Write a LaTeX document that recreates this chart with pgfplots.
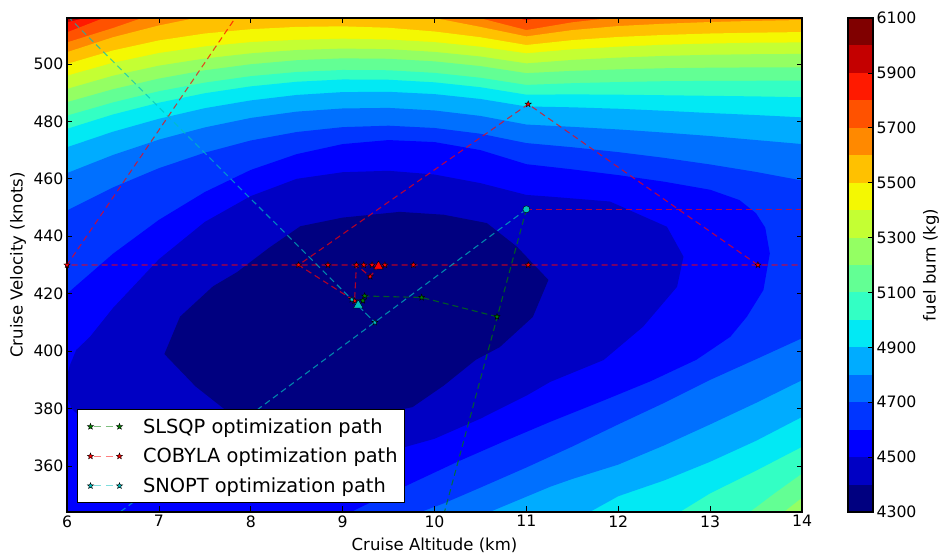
\documentclass[border=0pt]{standalone}
\usepackage{fontspec}
\setmainfont{DejaVu Sans}
\usepackage{pgfplots}
\pgfplotsset{compat=1.18}

\definecolor{c0}{rgb}{0,0,0.5}
\definecolor{c1}{rgb}{0,0,0.767}
\definecolor{c2}{rgb}{0,0,1}
\definecolor{c3}{rgb}{0,0.206,1}
\definecolor{c4}{rgb}{0,0.441,1}
\definecolor{c5}{rgb}{0,0.676,1}
\definecolor{c6}{rgb}{0.0095,0.912,0.958}
\definecolor{c7}{rgb}{0.199,1,0.768}
\definecolor{c8}{rgb}{0.389,1,0.579}
\definecolor{c9}{rgb}{0.579,1,0.389}
\definecolor{c10}{rgb}{0.768,1,0.199}
\definecolor{c11}{rgb}{0.958,0.974,0.0094}
\definecolor{c12}{rgb}{1,0.756,0}
\definecolor{c13}{rgb}{1,0.538,0}
\definecolor{c14}{rgb}{1,0.320,0}
\definecolor{c15}{rgb}{1,0.102,0}
\definecolor{c16}{rgb}{0.767,0,0}
\definecolor{c17}{rgb}{0.5,0,0}
\definecolor{mplgreen}{rgb}{0,0.5,0}
\definecolor{mplcyan}{rgb}{0,0.75,0.75}

\pgfdeclareplotmark{fstar}{%
  \pgfpathmoveto{\pgfpointpolar{90}{\pgfplotmarksize}}%
  \pgfpathlineto{\pgfpointpolar{126}{0.42\pgfplotmarksize}}%
  \pgfpathlineto{\pgfpointpolar{162}{\pgfplotmarksize}}%
  \pgfpathlineto{\pgfpointpolar{198}{0.42\pgfplotmarksize}}%
  \pgfpathlineto{\pgfpointpolar{234}{\pgfplotmarksize}}%
  \pgfpathlineto{\pgfpointpolar{270}{0.42\pgfplotmarksize}}%
  \pgfpathlineto{\pgfpointpolar{306}{\pgfplotmarksize}}%
  \pgfpathlineto{\pgfpointpolar{342}{0.42\pgfplotmarksize}}%
  \pgfpathlineto{\pgfpointpolar{18}{\pgfplotmarksize}}%
  \pgfpathlineto{\pgfpointpolar{54}{0.42\pgfplotmarksize}}%
  \pgfpathclose
  \pgfusepathqfillstroke
}

\pgfplotsset{
  band/.style={draw=none, fill=#1, forget plot},
  pathline/.style={#1, line width=1.1pt, opacity=0.7, dash pattern=on 6pt off 4pt, forget plot},
  starmarks/.style={only marks, mark=fstar, mark size=3.2pt, mark options={fill=#1, draw=black, line width=0.4pt, solid}, forget plot},
}

\begin{document}
\begin{tikzpicture}
\begin{axis}[
  at={(0pt,0pt)}, anchor=south west,
  scale only axis, width=735pt, height=494pt,
  xmin=6, xmax=14, ymin=344, ymax=516,
  xtick={6,7,...,14}, ytick={360,380,...,500},
  tick align=inside, tick pos=both,
  major tick length=5.5pt,
  every tick/.style={black, line width=0.7pt},
  axis line style={line width=1.2pt},
  axis on top,
  tick label style={font=\fontsize{15.7}{18}\selectfont},
  /pgf/number format/assume math mode=true,
  xlabel={Cruise Altitude (km)},
  ylabel={Cruise Velocity (knots)},
  label style={font=\fontsize{16.5}{20}\selectfont},
  xlabel style={at={(axis description cs:0.5,-0.0789)}, anchor=base},
  ylabel style={at={(axis description cs:-0.0667,0.5)}, anchor=center},
  legend style={at={(axis description cs:0.0136,0.0182)}, anchor=south west,
    draw=black, line width=1pt, fill=white,
    font=\fontsize{19.4}{23}\selectfont,
    inner xsep=4.5pt, inner ysep=6.5pt, row sep=9.4pt,
    /tikz/every odd column/.append style={column sep=18.5pt}},
  legend cell align=left,
]
% ---------- filled contour bands ----------
\addplot[band=c17] coordinates {(5.5,330) (14.5,330) (14.5,530) (5.5,530)} -- cycle;
\addplot[band=c16] coordinates {(5.8,516.3) (6,517.8) (6.5,521) (7,524) (14.5,524) (14.5,330) (5.8,330)} -- cycle;
\addplot[band=c15] coordinates {(5.8,513) (6,514.5) (6.2,516) (6.5,518.5) (7,521.5) (8,525) (10,525) (10.8,521) (11,518.8) (11.3,520.5) (12,523) (14.5,525) (14.5,330) (5.8,330)} -- cycle;
\addplot[band=c14] coordinates {(5.8,509.5) (6,511) (6.4,516) (7,520) (7.5,521.5) (8,522.5) (9,523) (10,521.8) (10.5,519.2) (11,515.2) (11.5,518.5) (12,520.5) (13,522) (14.5,523) (14.5,330) (5.8,330)} -- cycle;
\addplot[band=c13] coordinates {(5.8,505.8) (6,507.5) (6.5,512.5) (6.8,515.8) (7,517.3) (7.5,519.3) (8,520.5) (9,521) (10,519.6) (10.5,515.9) (11,511.8) (11.5,514.5) (12,516.3) (12.5,517.4) (13,518.1) (14.5,519.2) (14.5,330) (5.8,330)} -- cycle;
\addplot[band=c12] coordinates {(5.8,502) (6,504.1) (6.5,509.3) (7,513.4) (7.4,516) (8,517.9) (8.5,518.6) (9,518.7) (9.5,518) (10,516) (10.5,512.9) (11,509.6) (11.5,511.8) (12,513.2) (12.5,514) (13,514.6) (13.5,515) (14,515.3) (14.5,515.5) (14.5,330) (5.8,330)} -- cycle;
\addplot[band=c11] coordinates {(5.8,498.2) (6,500) (6.5,504.7) (7,508.2) (7.5,510.6) (8,512.1) (8.5,512.9) (9,513.1) (9.5,512.6) (10,511.3) (10.5,509.3) (11,506.6) (11.5,508.3) (12,509.4) (12.5,510.1) (13,510.6) (13.5,510.9) (14,511.1) (14.5,511.2) (14.5,330) (5.8,330)} -- cycle;
\addplot[band=c10] coordinates {(5.8,494.2) (6,495.9) (6.5,500.4) (7,503.8) (7.5,506.1) (8,507.6) (8.5,508.4) (9,508.8) (9.5,508.5) (10,507.6) (10.5,506) (11,503.7) (11.5,505.1) (12,506) (12.5,506.7) (13,507.1) (13.5,507.4) (14,507.5) (14.5,507.5) (14.5,330) (5.8,330)} -- cycle;
\addplot[band=c9] coordinates {(5.8,489.5) (6,491.3) (6.5,495.9) (7,499.4) (7.5,501.9) (8,503.7) (8.5,504.85) (9,505.35) (9.5,505.15) (10,504.2) (10.5,502.6) (11,500.2) (11.5,501.4) (12,502.2) (12.5,502.8) (13,503.2) (13.5,503.4) (14,503.5) (14.5,503.5) (14.5,330) (5.8,330)} -- cycle;
\addplot[band=c8] coordinates {(5.8,484.9) (6,486.7) (6.5,491.2) (7,494.9) (7.5,497.8) (8,499.9) (8.5,501.3) (9,501.95) (9.5,501.8) (10,500.9) (10.5,499.25) (11,496.8) (11.5,497.6) (12,498.1) (12.5,498.5) (13,498.7) (13.5,498.8) (14,498.8) (14.5,498.8) (14.5,361) (14,349) (13.8,344) (13.6,339) (5.8,339)} -- cycle;
\addplot[band=c7] coordinates {(5.8,480) (6,482) (6.5,486.6) (7,490.5) (7.5,493.5) (8,495.75) (8.5,497.2) (9,497.9) (9.5,497.8) (10,496.9) (10.5,495.2) (11,492.7) (11.5,493.3) (12,493.7) (12.5,494) (13,494.1) (14,494.2) (14.5,494.2) (14.5,367.5) (14,357.4) (13.7,350.5) (13.43,344) (13.2,339) (5.8,339)} -- cycle;
\addplot[band=c6] coordinates {(5.8,475.2) (6,477.4) (6.5,482.4) (7,486.5) (7.5,489.8) (8,492.2) (8.5,493.8) (9,494.6) (9.5,494.5) (10,493.6) (10.5,491.9) (11,489.3) (11.5,489.4) (12,489.3) (12.5,489.1) (13,488.9) (13.5,488.7) (14,488.4) (14.5,488.2) (14.5,375) (14,366.7) (13.5,358.4) (13,350.5) (12.67,344) (12.4,339) (5.8,339)} -- cycle;
\addplot[band=c5] coordinates {(5.8,468.4) (6,471) (6.5,476.4) (7,480.9) (7.5,484.6) (8,487.3) (8.5,489.2) (9,490.2) (9.5,490.3) (10,489.5) (10.5,487.8) (11,485.2) (11.5,484.9) (12,484.4) (12.5,483.7) (13,482.9) (13.5,482.2) (14,481.4) (14.5,480.7) (14.5,385.5) (14,377.1) (13.5,368.8) (13,361.5) (12.5,355) (12,349.5) (11.69,344) (11.4,339) (5.8,339)} -- cycle;
\addplot[band=c4] coordinates {(5.8,459) (6,462) (6.5,468.3) (7,473.65) (7.5,477.9) (8,481.2) (8.5,483.4) (9,484.5) (9.5,484.7) (10,483.8) (10.5,481.9) (11,478.9) (11.5,478.1) (12,477.2) (12.5,476.1) (13,474.9) (13.5,473.5) (14,472.1) (14.5,470.6) (14.5,398) (14,389.9) (13.5,382) (13,374.5) (12.5,367.2) (12,360.5) (11.5,355.5) (11.26,352.8) (10.9,348) (10.6,344) (10.3,340) (5.8,340)} -- cycle;
\addplot[band=c3] coordinates {(5.8,444.5) (6,449) (6.5,457) (7,463.7) (7.5,469.1) (8,473.35) (8.5,476.3) (9,478) (9.5,478.5) (10,477.7) (10.5,475.7) (11,472.45) (11.5,471) (12,469.3) (12.5,467.3) (13,465) (13.5,462.4) (14,459.4) (14.5,456) (14.5,412) (14,404.5) (13.5,397.2) (13,390) (12.5,382) (12,374.5) (11.5,366.8) (11,359.5) (10.5,352.5) (10.1,347) (9.85,344) (9.5,339) (5.8,339)} -- cycle;
\addplot[band=c2] coordinates {(5.8,413) (6,420) (6.5,433.9) (7,445.7) (7.5,455.4) (8,463.1) (8.5,468.6) (9,472.1) (9.5,473.5) (10,472.8) (10.5,470) (11,465.1) (11.5,463.3) (12,461.3) (12.5,459) (13,456.2) (13.32,452.6) (13.5,448) (13.6,443) (13.65,434) (13.58,421.3) (13.4,412) (13.22,405) (12.85,397) (12.35,389.5) (11.8,382.3) (11.26,375.4) (10.75,368.5) (10.25,361.5) (9.75,354) (9.25,346.5) (9,342.5) (8.7,337) (5.8,337)} -- cycle;
\addplot[band=c1] coordinates {(6.1,400.4) (6.03,395) (5.99,390) (5.99,385) (6.05,380) (6.2,375.5) (6.5,371) (7,366.5) (7.5,363.5) (8,362) (8.5,361.5) (9,362.5) (9.5,365) (10,369.5) (10.5,376.5) (11,384.5) (11.26,389.3) (11.84,396.9) (12.27,408.5) (12.64,422.4) (12.71,432.9) (12.53,443.3) (11.91,452.1) (11.26,453.8) (11,454.4) (10.5,458.5) (10,461.5) (9.5,462.8) (9,462.3) (8.5,460) (8,454) (7.5,445) (7,432) (6.5,415) (6.25,405)} -- cycle;
\addplot[band=c0] coordinates {(7.06,399) (7.23,412) (7.59,422.6) (7.85,427.5) (8.2,436) (8.54,443.5) (9,446.5) (9.62,448.5) (10.1,447.5) (10.57,444.6) (10.9,436.3) (11.24,424.8) (11.07,411.9) (10.71,401.4) (10.45,397) (10.1,388) (9.76,380.5) (9.2,377) (8.68,375.5) (8.2,376.5) (7.73,379.4) (7.4,387.7)} -- cycle;

% ---------- optimization paths ----------
% COBYLA
\addplot[pathline=red] coordinates {(8.3,538) (6,430) (14.3,430)};
\addplot[pathline=red] coordinates {(11,449.4) (14.3,449.4)};
\addplot[pathline=red] coordinates {(13.52,430) (11.02,486) (8.52,430) (9.13,417.5) (9.15,430) (9.3,426) (9.39,429.5)};
% SLSQP
\addplot[pathline=mplgreen] coordinates {(11,449.4) (9.99,330)};
\addplot[pathline=mplgreen] coordinates {(10.68,412) (9.86,418.7) (9.24,419.2) (9.22,417.6)};
% SNOPT
\addplot[pathline=mplcyan] coordinates {(11,449.4) (6.2,335)};
\addplot[pathline=mplcyan] coordinates {(5.7,526.4) (9.35,410) (9.1,418) (9.17,416)};

\addplot[starmarks=red] coordinates {(6,430) (8.52,430) (8.84,430) (9.15,430) (9.23,430) (9.32,430) (9.46,430) (9.77,430) (11.02,430) (13.52,430) (11.02,486) (9.13,417.5) (9.3,426)};
\addplot[starmarks=mplgreen] coordinates {(10.68,412) (9.86,418.7) (9.24,419.2) (9.22,417.6)};
\addplot[starmarks=mplcyan] coordinates {(9.35,410) (9.1,418)};
\addplot[only marks, mark=*, mark size=3.5pt, mark options={fill=mplcyan, draw=black, line width=0.4pt}, forget plot] coordinates {(11,449.4)};
\addplot[only marks, mark=triangle*, mark size=5.5pt, mark options={fill=red, draw=black, line width=0.4pt}, forget plot] coordinates {(9.39,429.5)};
\addplot[only marks, mark=triangle*, mark size=5.5pt, mark options={fill=mplcyan, draw=black, line width=0.4pt}, forget plot] coordinates {(9.17,416)};

% ---------- legend ----------
\addlegendimage{legend image code/.code={%
  \path[draw=none] (-8.5pt,0pt) -- (29pt,0pt);
  \draw[draw=mplgreen, draw opacity=0.5, line width=1.1pt, dash pattern=on 7pt off 4.5pt, dash phase=-4pt] (0pt,0pt) -- (29pt,0pt);
  \begin{scope}[fill=mplgreen, draw=black, line width=0.4pt, solid, opacity=1]
    \pgfsetplotmarksize{3.2pt}\pgfuseplotmark{fstar}%
    \pgftransformxshift{29pt}\pgfuseplotmark{fstar}%
  \end{scope}}}
\addlegendentry{SLSQP optimization path}
\addlegendimage{legend image code/.code={%
  \path[draw=none] (-8.5pt,0pt) -- (29pt,0pt);
  \draw[draw=red, draw opacity=0.5, line width=1.1pt, dash pattern=on 7pt off 4.5pt, dash phase=-4pt] (0pt,0pt) -- (29pt,0pt);
  \begin{scope}[fill=red, draw=black, line width=0.4pt, solid, opacity=1]
    \pgfsetplotmarksize{3.2pt}\pgfuseplotmark{fstar}%
    \pgftransformxshift{29pt}\pgfuseplotmark{fstar}%
  \end{scope}}}
\addlegendentry{COBYLA optimization path}
\addlegendimage{legend image code/.code={%
  \path[draw=none] (-8.5pt,0pt) -- (29pt,0pt);
  \draw[draw=mplcyan, draw opacity=0.5, line width=1.1pt, dash pattern=on 7pt off 4.5pt, dash phase=-4pt] (0pt,0pt) -- (29pt,0pt);
  \begin{scope}[fill=mplcyan, draw=black, line width=0.4pt, solid, opacity=1]
    \pgfsetplotmarksize{3.2pt}\pgfuseplotmark{fstar}%
    \pgftransformxshift{29pt}\pgfuseplotmark{fstar}%
  \end{scope}}}
\addlegendentry{SNOPT optimization path}
\end{axis}

% ---------- colorbar ----------
\begin{axis}[
  at={(781pt,0pt)}, anchor=south west,
  scale only axis, width=25pt, height=494pt,
  xmin=0, xmax=1, ymin=4300, ymax=6100,
  xtick=\empty, ytick={4300,4500,...,6100},
  scaled y ticks=false,
  /pgf/number format/1000 sep={},
  yticklabel pos=right, ytick pos=right,
  tick align=inside, major tick length=5pt,
  every tick/.style={black, line width=0.7pt},
  axis line style={line width=1.2pt},
  axis on top,
  tick label style={font=\fontsize{15.7}{18}\selectfont},
  /pgf/number format/assume math mode=true,
  ylabel={fuel burn (kg)},
  label style={font=\fontsize{16.5}{20}\selectfont},
  ylabel style={at={(axis description cs:3.32,0.5)}, anchor=center},
]
\addplot[band=c0] coordinates {(0,4300) (1,4300) (1,4400) (0,4400)} -- cycle;
\addplot[band=c1] coordinates {(0,4400) (1,4400) (1,4500) (0,4500)} -- cycle;
\addplot[band=c2] coordinates {(0,4500) (1,4500) (1,4600) (0,4600)} -- cycle;
\addplot[band=c3] coordinates {(0,4600) (1,4600) (1,4700) (0,4700)} -- cycle;
\addplot[band=c4] coordinates {(0,4700) (1,4700) (1,4800) (0,4800)} -- cycle;
\addplot[band=c5] coordinates {(0,4800) (1,4800) (1,4900) (0,4900)} -- cycle;
\addplot[band=c6] coordinates {(0,4900) (1,4900) (1,5000) (0,5000)} -- cycle;
\addplot[band=c7] coordinates {(0,5000) (1,5000) (1,5100) (0,5100)} -- cycle;
\addplot[band=c8] coordinates {(0,5100) (1,5100) (1,5200) (0,5200)} -- cycle;
\addplot[band=c9] coordinates {(0,5200) (1,5200) (1,5300) (0,5300)} -- cycle;
\addplot[band=c10] coordinates {(0,5300) (1,5300) (1,5400) (0,5400)} -- cycle;
\addplot[band=c11] coordinates {(0,5400) (1,5400) (1,5500) (0,5500)} -- cycle;
\addplot[band=c12] coordinates {(0,5500) (1,5500) (1,5600) (0,5600)} -- cycle;
\addplot[band=c13] coordinates {(0,5600) (1,5600) (1,5700) (0,5700)} -- cycle;
\addplot[band=c14] coordinates {(0,5700) (1,5700) (1,5800) (0,5800)} -- cycle;
\addplot[band=c15] coordinates {(0,5800) (1,5800) (1,5900) (0,5900)} -- cycle;
\addplot[band=c16] coordinates {(0,5900) (1,5900) (1,6000) (0,6000)} -- cycle;
\addplot[band=c17] coordinates {(0,6000) (1,6000) (1,6100) (0,6100)} -- cycle;
\end{axis}
\pgfresetboundingbox
\useasboundingbox (-67pt,-42pt) rectangle (873pt,512pt);
\end{tikzpicture}
\end{document}
